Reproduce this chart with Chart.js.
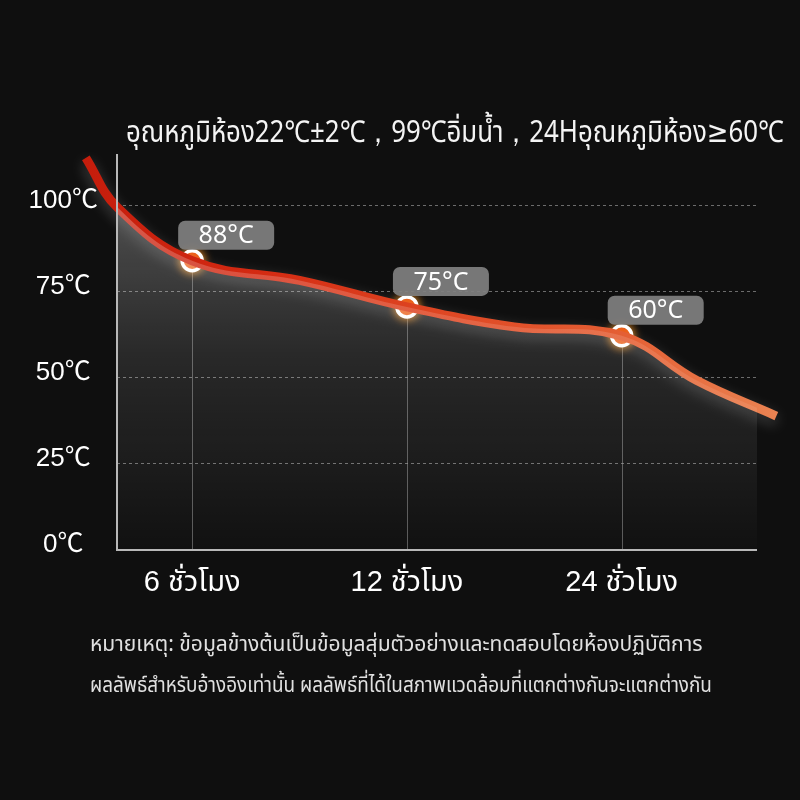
<!DOCTYPE html>
<html>
<head>
<meta charset="utf-8">
<script src="https://cdn.jsdelivr.net/npm/chart.js@4/dist/chart.umd.min.js"></script>
<style>
  html, body { margin: 0; padding: 0; background: #0f0f0f; }
  #wrap { position: relative; width: 800px; height: 800px; background: #0f0f0f; overflow: hidden; }
  canvas { position: absolute; left: 0; top: 0; }
  .txt { position: absolute; white-space: nowrap; color: #f4f4f4; transform-origin: left center;
         font-family: "Noto Sans Thai", "Noto Sans Thai UI", "Noto Sans", "DejaVu Sans", sans-serif; }
  #title { left: 126px; top: 114px; font-size: 30px; line-height: 38px; }
  #note1 { left: 90px; top: 629px; font-size: 22px; line-height: 32px; color: #e0e0e0; }
  #note2 { left: 90px; top: 670px; font-size: 22px; line-height: 32px; color: #e0e0e0; }
</style>
</head>
<body>
<div id="wrap">
  <canvas id="c" width="800" height="800"></canvas>
  <div class="txt" id="title" data-w="658">อุณหภูมิห้อง22℃±2℃，99℃อิ่มน้ำ，24Hอุณหภูมิห้อง≥60℃</div>
  <div class="txt" id="note1" data-w="613">หมายเหตุ: ข้อมูลข้างต้นเป็นข้อมูลสุ่มตัวอย่างและทดสอบโดยห้องปฏิบัติการ</div>
  <div class="txt" id="note2" data-w="622">ผลลัพธ์สำหรับอ้างอิงเท่านั้น ผลลัพธ์ที่ได้ในสภาพแวดล้อมที่แตกต่างกันจะแตกต่างกัน</div>
</div>
<script>
// ---- data ----
const categories = ['6 ชั่วโมง', '12 ชั่วโมง', '24 ชั่วโมง'];
const categoryPos = [1, 2, 3];
const yTicks = [0, 25, 50, 75, 100];
const curveX = [0.505, 0.65, 1.0, 1.5, 2.0, 2.5, 3.0, 3.35, 3.72];
const curveY = [113.9, 99.6, 84.0, 78.3, 70.6, 64.8, 62.2, 49.2, 38.9];
const markerY = [84.0, 70.6, 62.2];
const markerLabels = ['88°C', '75°C', '60°C'];

const curvePoints = curveX.map((x, i) => ({ x: x, y: curveY[i] }));
const markerPoints = categoryPos.map((x, i) => ({ x: x, y: markerY[i] }));

// fit html text widths
document.querySelectorAll('.txt').forEach(el => {
  const target = +el.dataset.w;
  const w = el.scrollWidth;
  if (w > 0) el.style.transform = 'scaleX(' + (target / w) + ')';
});

function lineGradient(ctx) {
  const chart = ctx.chart;
  const xs = chart.scales.x;
  if (!chart.chartArea || !xs) return '#d43a18';
  const x0 = xs.getPixelForValue(curveX[0]);
  const x1 = xs.getPixelForValue(curveX[curveX.length - 1]);
  if (!isFinite(x0) || !isFinite(x1) || x0 === x1) return '#d43a18';
  const g = chart.ctx.createLinearGradient(x0, 0, x1, 0);
  g.addColorStop(0, '#c51d0c');
  g.addColorStop(0.25, '#d42a12');
  g.addColorStop(0.5, '#de4522');
  g.addColorStop(0.78, '#e45f34');
  g.addColorStop(1, '#ea8352');
  return g;
}
function fillGradient(ctx) {
  const chart = ctx.chart;
  const a = chart.chartArea;
  if (!a || !isFinite(a.top) || !isFinite(a.bottom)) return 'rgba(255,255,255,0.1)';
  const g = chart.ctx.createLinearGradient(0, a.top + 40, 0, a.bottom);
  g.addColorStop(0, 'rgba(255,255,255,0.28)');
  g.addColorStop(0.45, 'rgba(255,255,255,0.11)');
  g.addColorStop(1, 'rgba(255,255,255,0.01)');
  return g;
}

const glowPlugin = {
  id: 'glow',
  beforeDatasetDraw(chart, args) {
    const ctx = chart.ctx;
    ctx.save();
    if (args.index === 1) {
      ctx.shadowColor = 'rgba(255,255,255,0.22)';
      ctx.shadowBlur = 14;
      ctx.shadowOffsetY = 5;
    } else if (args.index === 2) {
      ctx.shadowColor = 'rgba(255,150,30,0.95)';
      ctx.shadowBlur = 10;
    }
  },
  afterDatasetDraw(chart) { chart.ctx.restore(); }
};

const dropLines = {
  id: 'dropLines',
  beforeDatasetsDraw(chart) {
    const ctx = chart.ctx, xs = chart.scales.x, ys = chart.scales.y;
    ctx.save();
    ctx.strokeStyle = 'rgba(150,150,150,0.55)';
    ctx.lineWidth = 1;
    markerPoints.forEach(p => {
      const px = Math.round(xs.getPixelForValue(p.x)) + 0.5;
      ctx.beginPath();
      ctx.moveTo(px, ys.getPixelForValue(p.y));
      ctx.lineTo(px, chart.chartArea.bottom);
      ctx.stroke();
    });
    ctx.restore();
  }
};

const axisLines = {
  id: 'axisLines',
  afterDatasetsDraw(chart) {
    const ctx = chart.ctx, a = chart.chartArea;
    ctx.save();
    ctx.strokeStyle = '#b8b8b8';
    ctx.lineWidth = 2;
    ctx.beginPath();
    ctx.moveTo(a.left, a.top);
    ctx.lineTo(a.left, a.bottom);
    ctx.lineTo(a.right, a.bottom);
    ctx.stroke();
    ctx.restore();
  }
};

const labelBoxes = {
  id: 'labelBoxes',
  afterDatasetsDraw(chart) {
    const ctx = chart.ctx, xs = chart.scales.x, ys = chart.scales.y;
    ctx.save();
    ctx.font = '25px "Noto Sans", "Open Sans", sans-serif';
    ctx.textAlign = 'center';
    ctx.textBaseline = 'middle';
    markerPoints.forEach((p, i) => {
      const px = xs.getPixelForValue(p.x), py = ys.getPixelForValue(p.y);
      const w = 96, h = 29;
      const cx = px + 34, bottom = py - 11;
      ctx.fillStyle = 'rgba(128,128,128,0.92)';
      ctx.beginPath();
      ctx.roundRect(cx - w / 2, bottom - h, w, h, 7);
      ctx.fill();
      ctx.fillStyle = '#ffffff';
      ctx.fillText(markerLabels[i], cx, bottom - h / 2 + 1);
    });
    ctx.restore();
  }
};

new Chart(document.getElementById('c'), {
  type: 'scatter',
  data: {
    datasets: [
      { // shaded area
        data: curvePoints, showLine: true, fill: 'origin',
        backgroundColor: fillGradient, borderWidth: 0, borderColor: 'rgba(0,0,0,0)', pointRadius: 0,
        tension: 0.4
      },
      { // curve
        data: curvePoints, showLine: true, fill: false, clip: false,
        borderColor: lineGradient, borderWidth: 9, pointRadius: 0,
        borderCapStyle: 'butt', tension: 0.4
      },
      { // markers
        data: markerPoints, showLine: false, clip: false,
        pointRadius: 10, pointBorderWidth: 3.5, pointBorderColor: '#ffffff',
        pointBackgroundColor: '#e2440f', pointHoverRadius: 10
      }
    ]
  },
  options: {
    responsive: false,
    animation: false,
    events: [],
    layout: { padding: { top: 154, right: 43, left: 0, bottom: 0 } },
    plugins: { legend: { display: false }, tooltip: { enabled: false } },
    scales: {
      x: {
        type: 'linear', min: 0.65, max: 3.63,
        afterFit(s) { s.height = 250; },
        afterBuildTicks(s) { s.ticks = categoryPos.map(v => ({ value: v })); },
        grid: { display: false, drawTicks: false },
        border: { display: false },
        ticks: {
          padding: 16, color: '#ffffff',
          font: { family: '"Liberation Sans", "Noto Sans Thai", "Noto Sans", sans-serif', size: 29 },
          callback(v) { const i = categoryPos.indexOf(v); return i >= 0 ? categories[i] : ''; }
        }
      },
      y: {
        type: 'linear', min: 0, max: 115,
        afterFit(s) { s.width = 117; },
        afterBuildTicks(s) { s.ticks = yTicks.map(v => ({ value: v })); },
        grid: {
          drawTicks: false, color: 'rgba(140,140,140,0.75)', lineWidth: 1
        },
        border: { display: false, dash: [3, 3] },
        ticks: {
          crossAlign: 'center', padding: 19, labelOffset: -5, color: '#ffffff',
          font: { family: '"Liberation Sans", "Noto Sans CJK SC", sans-serif', size: 26 },
          callback(v) { return v + '℃'; }
        }
      }
    }
  },
  plugins: [dropLines, glowPlugin, axisLines, labelBoxes]
});
</script>
</body>
</html>
